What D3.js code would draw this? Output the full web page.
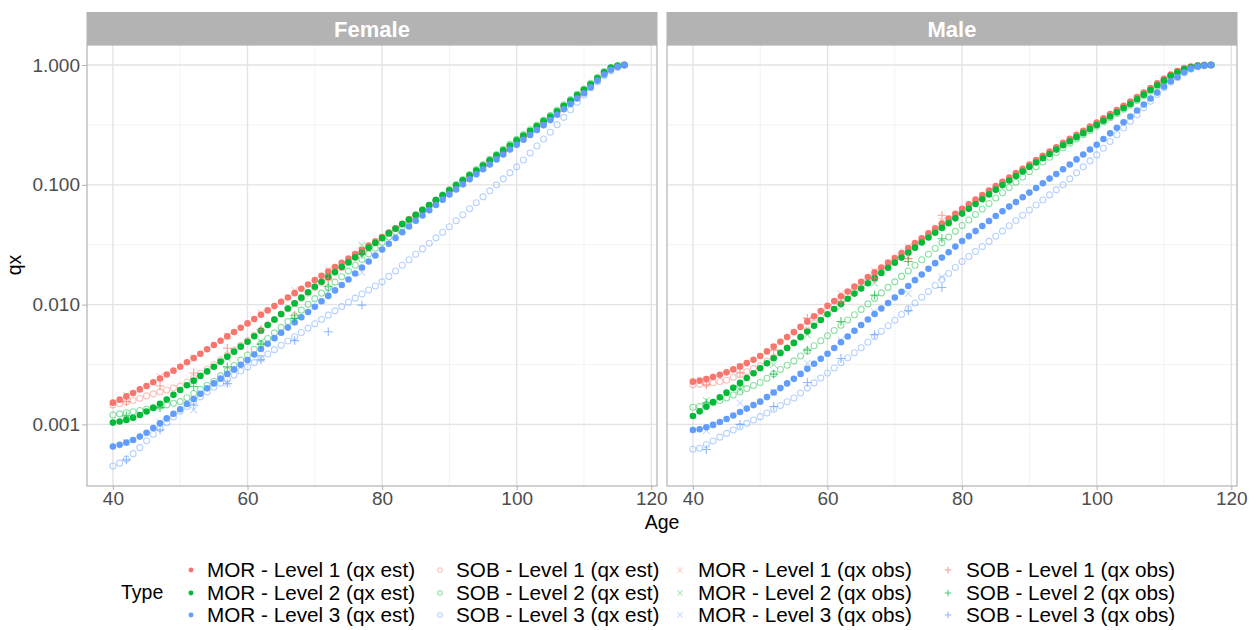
<!DOCTYPE html>
<html>
<head>
<meta charset="utf-8">
<script src="https://cdn.jsdelivr.net/npm/d3@7"></script>
<style>
  body { margin: 0; background: #ffffff; }
  text { font-family: "Liberation Sans", Arial, sans-serif; }
</style>
</head>
<body>
<svg id="chart" width="1257" height="630"></svg>
<script>
// ---- Data: one-year death probabilities (qx) by age ----
const femaleAges = d3.range(40, 117);   // 40..116
const maleAges = d3.range(40, 118);     // 40..117
const obsAges = [42, 47, 52, 57, 62, 67, 72, 77];

const femaleMOR1 = [0.00152,0.00161,0.00172,0.00183,0.00196,0.00209,0.00225,0.00242,0.00261,0.00281,
  0.00303,0.0033,0.00358,0.00389,0.00424,0.0046,0.005,0.00543,0.0059,0.00641,
  0.00697,0.00757,0.00822,0.00895,0.00972,0.01057,0.01148,0.01247,0.01355,0.01472,
  0.016,0.0174,0.0189,0.0206,0.0223,0.0243,0.0264,0.0286,0.0311,0.0338,
  0.0367,0.0399,0.0434,0.0471,0.0512,0.0556,0.0611,0.0671,0.0738,0.0811,
  0.0891,0.0979,0.1076,0.1183,0.13,0.143,0.157,0.173,0.19,0.208,
  0.229,0.251,0.275,0.302,0.331,0.363,0.403,0.447,0.495,0.55,
  0.61,0.676,0.759,0.851,0.933,0.977,1.0];
const femaleMOR2 = [0.001035,0.001059,0.001091,0.001135,0.0012,0.00128,0.001374,0.001486,0.001614,0.001766,
  0.001936,0.00212,0.00232,0.00254,0.00277,0.00303,0.00334,0.00368,0.00405,0.00446,
  0.0049,0.00545,0.00605,0.00675,0.0075,0.00834,0.00927,0.01028,0.01143,0.01268,
  0.0141,0.0155,0.017,0.0187,0.0206,0.0226,0.0248,0.0272,0.0299,0.0327,
  0.0359,0.0393,0.043,0.047,0.0514,0.0562,0.0618,0.0679,0.0745,0.0818,
  0.0899,0.0991,0.1089,0.1199,0.1318,0.1452,0.16,0.176,0.194,0.213,
  0.235,0.258,0.282,0.31,0.34,0.372,0.412,0.457,0.506,0.561,
  0.621,0.692,0.776,0.871,0.948,0.984,1.0];
const femaleMOR3 = [0.000653,0.000675,0.000705,0.000741,0.000791,0.000853,0.000933,0.001023,0.001122,0.001225,
  0.00134,0.00148,0.00163,0.0018,0.002,0.0022,0.00241,0.00264,0.00288,0.00315,
  0.00345,0.00383,0.00426,0.00472,0.00525,0.00582,0.00643,0.00711,0.00785,0.00869,
  0.00959,0.01067,0.01183,0.01315,0.01459,0.0162,0.0182,0.0204,0.0229,0.0257,
  0.0288,0.0322,0.036,0.0402,0.0449,0.0501,0.0555,0.0614,0.0679,0.0752,
  0.0832,0.0916,0.1009,0.1112,0.1225,0.1349,0.148,0.163,0.179,0.197,
  0.216,0.238,0.261,0.287,0.315,0.347,0.385,0.427,0.473,0.525,
  0.582,0.653,0.741,0.832,0.912,0.966,1.0];
const femaleSOB1 = [0.001455,0.001493,0.001538,0.001585,0.001652,0.00173,0.0018,0.00187,0.00194,0.00201,
  0.00209,0.00226,0.00245,0.00267,0.0029,0.00316,0.00347,0.0038,0.00417,0.00457,
  0.00501,0.00555,0.00614,0.00679,0.00752,0.00832,0.0092,0.01019,0.01127,0.01247,
  0.0138,0.0152,0.0167,0.0185,0.0203,0.0224,0.0247,0.0272,0.0299,0.033,
  0.0363,0.0396,0.0433,0.0472,0.0515,0.0562,0.0617,0.0676,0.0741,0.0813,
  0.0891,0.0982,0.1081,0.1191,0.1312,0.1445,0.159,0.175,0.192,0.211,
  0.232,0.254,0.279,0.305,0.335,0.367,0.407,0.452,0.501,0.556,
  0.617,0.687,0.771,0.865,0.944,0.982,1.0];
const femaleSOB2 = [0.0012,0.001225,0.00125,0.001276,0.001306,0.00134,0.001377,0.001416,0.001455,0.0015,
  0.00155,0.00167,0.00181,0.00196,0.00212,0.00229,0.00254,0.00281,0.0031,0.00344,
  0.0038,0.00423,0.0047,0.00522,0.00581,0.00646,0.00721,0.00805,0.00899,0.01005,
  0.01122,0.01247,0.01387,0.0154,0.0171,0.01905,0.0213,0.0238,0.0265,0.0296,
  0.0331,0.0366,0.0406,0.0449,0.0497,0.055,0.0608,0.0673,0.0745,0.0824,
  0.0912,0.1005,0.1107,0.1219,0.1343,0.148,0.163,0.179,0.198,0.218,
  0.24,0.263,0.288,0.316,0.347,0.38,0.421,0.466,0.515,0.57,
  0.631,0.705,0.789,0.881,0.955,0.989,1.0];
const femaleSOB3 = [0.00045,0.000475,0.000515,0.00057,0.00064,0.00073,0.000828,0.000925,0.001033,0.001153,
  0.001288,0.001413,0.001549,0.001698,0.001862,0.00204,0.00221,0.00239,0.00258,0.00279,
  0.00302,0.00328,0.00356,0.00387,0.00421,0.00457,0.00497,0.0054,0.00586,0.00637,
  0.00692,0.00752,0.00817,0.00887,0.00964,0.01047,0.01132,0.01225,0.01324,0.01432,
  0.01549,0.0172,0.0191,0.0213,0.0237,0.0263,0.0292,0.0325,0.0361,0.0402,
  0.0447,0.0501,0.0562,0.0631,0.0708,0.0794,0.0891,0.1,0.1122,0.1259,
  0.1413,0.1614,0.1845,0.211,0.241,0.275,0.318,0.366,0.423,0.488,
  0.562,0.646,0.724,0.813,0.891,0.955,1.0];

const maleMOR1 = [0.002275,0.00232,0.00239,0.00249,0.0026,0.00272,0.00288,0.00305,0.00325,0.00347,
  0.00372,0.00407,0.00447,0.0049,0.00537,0.00589,0.00652,0.00721,0.00798,0.00883,
  0.00977,0.01072,0.01175,0.01288,0.01413,0.01549,0.01698,0.01862,0.0204,0.0224,
  0.0245,0.027,0.0296,0.0326,0.0358,0.0394,0.0433,0.0475,0.0522,0.0574,
  0.0631,0.0689,0.0752,0.082,0.0895,0.0977,0.1062,0.1153,0.1253,0.1361,
  0.1479,0.1607,0.1746,0.1897,0.206,0.224,0.242,0.262,0.283,0.306,
  0.331,0.359,0.389,0.422,0.457,0.495,0.541,0.59,0.644,0.703,
  0.767,0.832,0.891,0.94,0.971,0.989,0.998,1.0];
const maleMOR2 = [0.001175,0.001285,0.001406,0.001538,0.001683,0.001841,0.00202,0.00222,0.00244,0.00267,
  0.00294,0.00324,0.00357,0.00394,0.00435,0.00479,0.00535,0.00597,0.00667,0.00745,
  0.00832,0.00918,0.01014,0.01119,0.01236,0.01365,0.01507,0.01663,0.01837,0.0203,
  0.0224,0.0247,0.0272,0.0299,0.033,0.0363,0.0398,0.0437,0.0479,0.0525,
  0.0575,0.0631,0.0692,0.0759,0.0832,0.0912,0.0995,0.1086,0.1186,0.1294,
  0.1413,0.1535,0.1667,0.1811,0.1968,0.2138,0.231,0.25,0.27,0.292,
  0.316,0.343,0.372,0.403,0.437,0.473,0.518,0.566,0.619,0.678,
  0.741,0.813,0.871,0.923,0.959,0.984,0.995,1.0];
const maleMOR3 = [0.000899,0.000912,0.000946,0.000991,0.001047,0.001109,0.001186,0.001268,0.001355,0.001449,
  0.001549,0.00169,0.001845,0.00201,0.0022,0.0024,0.00264,0.00291,0.00321,0.00353,
  0.00389,0.00435,0.00485,0.00542,0.00605,0.00676,0.00752,0.00836,0.00929,0.01033,
  0.01148,0.01282,0.01432,0.016,0.01786,0.01995,0.0222,0.0247,0.0274,0.0305,
  0.0339,0.0373,0.0411,0.0453,0.0499,0.055,0.0601,0.0658,0.0719,0.0787,
  0.0861,0.0942,0.103,0.1127,0.1233,0.1349,0.148,0.163,0.179,0.197,
  0.216,0.241,0.269,0.299,0.333,0.372,0.417,0.468,0.525,0.589,
  0.661,0.733,0.794,0.871,0.933,0.973,0.991,1.0];
const maleSOB1 = [0.00214,0.00216,0.00219,0.00223,0.00228,0.00234,0.00247,0.0026,0.00275,0.00292,
  0.00309,0.00336,0.00365,0.00398,0.00437,0.00479,0.00542,0.00614,0.00695,0.00787,
  0.00891,0.00982,0.01081,0.01191,0.01312,0.01445,0.01592,0.01754,0.01932,0.0213,
  0.0234,0.0258,0.0283,0.0311,0.0342,0.0376,0.0413,0.0454,0.0499,0.0548,
  0.0603,0.0659,0.0721,0.0787,0.0859,0.0938,0.1021,0.1112,0.1211,0.1318,
  0.1435,0.1563,0.1698,0.1845,0.2004,0.2178,0.236,0.256,0.277,0.301,
  0.326,0.353,0.383,0.415,0.45,0.488,0.533,0.583,0.637,0.697,
  0.76,0.826,0.887,0.938,0.968,0.989,0.998,1.0];
const maleSOB2 = [0.00139,0.00141,0.001455,0.00152,0.001585,0.00166,0.00176,0.00187,0.00199,0.00211,
  0.00224,0.00243,0.00264,0.00287,0.00312,0.00339,0.00373,0.00411,0.00453,0.00499,
  0.0055,0.00608,0.00673,0.00745,0.00824,0.00912,0.01014,0.01127,0.01253,0.01393,
  0.01549,0.0172,0.0191,0.0213,0.0237,0.0263,0.0294,0.0328,0.0366,0.0409,
  0.0457,0.0508,0.0565,0.0628,0.0698,0.0776,0.0859,0.0951,0.1052,0.1164,
  0.1288,0.1413,0.1549,0.1698,0.1862,0.2042,0.222,0.241,0.262,0.284,
  0.309,0.335,0.363,0.394,0.427,0.462,0.506,0.553,0.605,0.662,
  0.724,0.798,0.861,0.916,0.955,0.982,0.995,1.0];
const maleSOB3 = [0.000621,0.000632,0.000679,0.000728,0.000783,0.000841,0.000897,0.000957,0.001021,0.001089,
  0.001161,0.001247,0.00134,0.001439,0.001545,0.00166,0.00183,0.00201,0.00222,0.00244,
  0.00269,0.00296,0.00327,0.0036,0.00396,0.00437,0.00485,0.0054,0.006,0.00667,
  0.00741,0.00828,0.00925,0.01033,0.01153,0.01288,0.01445,0.01622,0.0182,0.0204,
  0.0229,0.0252,0.0278,0.0306,0.0337,0.0372,0.0411,0.0455,0.0504,0.0557,
  0.0617,0.0679,0.0748,0.0824,0.0908,0.1,0.1122,0.1259,0.1413,0.1585,
  0.1778,0.202,0.23,0.262,0.298,0.339,0.385,0.439,0.499,0.568,
  0.646,0.721,0.785,0.861,0.923,0.968,0.989,1.0];

// observed rates at the grouped ages
const femaleMOR1obs = [0.00174,0.00251,0.00355,0.0055,0.00851,0.01318,0.0195,0.0284];
const femaleMOR2obs = [0.001122,0.001445,0.00229,0.00355,0.0049,0.01,0.017,0.0313];
const femaleMOR3obs = [0.000708,0.001047,0.001318,0.0022,0.00356,0.00724,0.01288,0.0186];
const femaleSOB1obs = [0.00155,0.00209,0.00269,0.00432,0.00617,0.00813,0.0166,0.0275];
const femaleSOB2obs = [0.001175,0.00138,0.00207,0.00302,0.00468,0.00767,0.0141,0.0263];
const femaleSOB3obs = [0.000506,0.0009,0.001445,0.00219,0.00347,0.00501,0.00593,0.00991];
const maleMOR1obs = [0.00234,0.00302,0.00437,0.00741,0.01239,0.01905,0.0302,0.0501];
const maleMOR2obs = [0.001585,0.00195,0.00316,0.00562,0.00955,0.0151,0.0251,0.0447];
const maleMOR3obs = [0.000891,0.00151,0.00186,0.00324,0.00506,0.00871,0.01239,0.017];
const maleSOB1obs = [0.00214,0.00269,0.00417,0.00767,0.01054,0.0166,0.0243,0.0557];
const maleSOB2obs = [0.00151,0.00209,0.00263,0.00417,0.00724,0.012,0.0229,0.0355];
const maleSOB3obs = [0.000617,0.001,0.001413,0.00224,0.00355,0.00562,0.00891,0.0139];

const panelNames = ["Female", "Male"];
const typeLabels = [
  "MOR - Level 1 (qx est)", "MOR - Level 2 (qx est)", "MOR - Level 3 (qx est)",
  "SOB - Level 1 (qx est)", "SOB - Level 2 (qx est)", "SOB - Level 3 (qx est)",
  "MOR - Level 1 (qx obs)", "MOR - Level 2 (qx obs)", "MOR - Level 3 (qx obs)",
  "SOB - Level 1 (qx obs)", "SOB - Level 2 (qx obs)", "SOB - Level 3 (qx obs)"
];
const yTicks = [0.001, 0.01, 0.1, 1];
const xTicks = [40, 60, 80, 100, 120];

// ---- Series table ----
const levelColor = ["#F8766D", "#00BA38", "#619CFF"];
const markOf = ["fill", "fill", "fill", "open", "open", "open", "times", "times", "times", "plus", "plus", "plus"];

const seriesByPanel = {
  Female: [
    [femaleAges, femaleMOR1], [femaleAges, femaleMOR2], [femaleAges, femaleMOR3],
    [femaleAges, femaleSOB1], [femaleAges, femaleSOB2], [femaleAges, femaleSOB3],
    [obsAges, femaleMOR1obs], [obsAges, femaleMOR2obs], [obsAges, femaleMOR3obs],
    [obsAges, femaleSOB1obs], [obsAges, femaleSOB2obs], [obsAges, femaleSOB3obs]
  ],
  Male: [
    [maleAges, maleMOR1], [maleAges, maleMOR2], [maleAges, maleMOR3],
    [maleAges, maleSOB1], [maleAges, maleSOB2], [maleAges, maleSOB3],
    [obsAges, maleMOR1obs], [obsAges, maleMOR2obs], [obsAges, maleMOR3obs],
    [obsAges, maleSOB1obs], [obsAges, maleSOB2obs], [obsAges, maleSOB3obs]
  ]
};

const points = [];
panelNames.forEach(p => {
  seriesByPanel[p].forEach(([ages, vals], t) => {
    vals.forEach((v, i) => points.push({ panel: p, type: t, age: ages[i], qx: v }));
  });
});

// ---- Layout ----
const svg = d3.select("#chart");
const plotTop = 45, plotBottom = 486, stripTop = 12;
const panelBox = { Female: [87, 657], Male: [667, 1237] };

// shared scales with 5% expansion (log space for y)
const ageExt = d3.extent(points, d => d.age);
const ageExp = (ageExt[1] - ageExt[0]) * 0.05;
const logExt = d3.extent(points, d => Math.log10(d.qx));
const logExp = (logExt[1] - logExt[0]) * 0.05;
const y = d3.scaleLog()
  .domain([Math.pow(10, logExt[0] - logExp), Math.pow(10, logExt[1] + logExp)])
  .range([plotBottom, plotTop]);

const gridMajor = "#E3E3E3", gridMinor = "#EFEFEF", frame = "#B3B3B3";

const opacityOf = { fill: 1, open: 0.45, times: 0.35, plus: 0.7 };

function drawMark(g, kind, color, cx, cy, scale) {
  const k = scale || 1;
  if (kind === "fill") {
    g.append("circle").attr("cx", cx).attr("cy", cy).attr("r", 3.3 * k)
      .attr("fill", color).attr("fill-opacity", opacityOf.fill);
  } else if (kind === "open") {
    g.append("circle").attr("cx", cx).attr("cy", cy).attr("r", 3.0 * k)
      .attr("fill", "none").attr("stroke", color).attr("stroke-width", 1.1)
      .attr("stroke-opacity", opacityOf.open);
  } else if (kind === "times") {
    const s = 3.4 * k;
    g.append("path")
      .attr("d", `M${cx - s},${cy - s}L${cx + s},${cy + s}M${cx - s},${cy + s}L${cx + s},${cy - s}`)
      .attr("stroke", color).attr("stroke-width", 1.1).attr("stroke-opacity", opacityOf.times);
  } else {
    const s = 4.4 * k;
    g.append("path")
      .attr("d", `M${cx - s},${cy}L${cx + s},${cy}M${cx},${cy - s}L${cx},${cy + s}`)
      .attr("stroke", color).attr("stroke-width", 1.1).attr("stroke-opacity", opacityOf.plus);
  }
}

// draw order: open estimates, filled estimates, then observations
const drawOrder = [3, 4, 5, 0, 1, 2, 6, 7, 8, 9, 10, 11];

panelNames.forEach((p, pi) => {
  const [left, right] = panelBox[p];
  const x = d3.scaleLinear().domain([ageExt[0] - ageExp, ageExt[1] + ageExp]).range([left, right]);
  const g = svg.append("g");

  // grid
  const minorX = d3.range(30, 131, 20).filter(v => v > x.domain()[0] && v < x.domain()[1]);
  const minorY = yTicks.map(v => v * Math.sqrt(10)).filter(v => v > y.domain()[0] && v < y.domain()[1]);
  g.selectAll(".gxm").data(minorX).join("line")
    .attr("x1", d => x(d)).attr("x2", d => x(d)).attr("y1", plotTop).attr("y2", plotBottom)
    .attr("stroke", gridMinor).attr("stroke-width", 0.8);
  g.selectAll(".gym").data(minorY).join("line")
    .attr("x1", left).attr("x2", right).attr("y1", d => y(d)).attr("y2", d => y(d))
    .attr("stroke", gridMinor).attr("stroke-width", 0.8);
  g.selectAll(".gx").data(xTicks).join("line")
    .attr("x1", d => x(d)).attr("x2", d => x(d)).attr("y1", plotTop).attr("y2", plotBottom)
    .attr("stroke", gridMajor).attr("stroke-width", 1.4);
  g.selectAll(".gy").data(yTicks).join("line")
    .attr("x1", left).attr("x2", right).attr("y1", d => y(d)).attr("y2", d => y(d))
    .attr("stroke", gridMajor).attr("stroke-width", 1.4);

  // points
  const pts = g.append("g");
  drawOrder.forEach(t => {
    const col = levelColor[t % 3];
    points.filter(d => d.panel === p && d.type === t)
      .forEach(d => drawMark(pts, markOf[t], col, x(d.age), y(d.qx)));
  });

  // panel frame
  g.append("rect").attr("x", left).attr("y", plotTop).attr("width", right - left)
    .attr("height", plotBottom - plotTop).attr("fill", "none").attr("stroke", frame).attr("stroke-width", 1.2);

  // strip
  g.append("rect").attr("x", left - 0.5).attr("y", stripTop).attr("width", right - left + 1)
    .attr("height", plotTop - stripTop).attr("fill", "#B3B3B3");
  g.append("text").attr("x", (left + right) / 2).attr("y", (stripTop + plotTop) / 2 + 8)
    .attr("text-anchor", "middle").attr("fill", "#ffffff").attr("font-weight", "bold")
    .attr("font-size", 22).text(p);

  // x axis
  const xa = g.append("g").attr("transform", `translate(0,${plotBottom})`)
    .call(d3.axisBottom(x).tickValues(xTicks).tickSize(4).tickPadding(2).tickFormat(d3.format("d")));
  xa.select(".domain").remove();
  xa.selectAll(".tick line").attr("stroke", frame);
  xa.selectAll(".tick text").attr("fill", "#4D4D4D").attr("font-size", 19)
    .attr("font-family", "Liberation Sans, Arial, sans-serif");

  // y axis on the first panel only
  if (pi === 0) {
    const ya = g.append("g").attr("transform", `translate(${left},0)`)
      .call(d3.axisLeft(y).tickValues(yTicks).tickSize(5).tickPadding(2).tickFormat(d3.format(".3f")));
    ya.select(".domain").remove();
    ya.selectAll(".tick line").attr("stroke", frame);
    ya.selectAll(".tick text").attr("fill", "#4D4D4D").attr("font-size", 19)
      .attr("font-family", "Liberation Sans, Arial, sans-serif");
  }
});

// axis titles
svg.append("text").attr("x", 662).attr("y", 529).attr("text-anchor", "middle")
  .attr("font-size", 19.5).attr("fill", "#000").text("Age");
svg.append("text").attr("transform", "translate(21,265) rotate(-90)").attr("text-anchor", "middle")
  .attr("font-size", 19.5).attr("fill", "#000").text("qx");

// legend: 4 columns x 3 rows, filled column by column
const legend = svg.append("g");
legend.append("text").attr("x", 121).attr("y", 599).attr("font-size", 19.5).attr("fill", "#000").text("Type");
const colKeyX = [191, 440, 680, 948];
const colTextX = [207, 456, 698, 966];
const rowY = [570, 593, 615];
typeLabels.forEach((lab, t) => {
  const c = Math.floor(t / 3), r = t % 3;
  drawMark(legend, markOf[t], levelColor[t % 3], colKeyX[c], rowY[r], 0.75);
  legend.append("text").attr("x", colTextX[c]).attr("y", rowY[r] + 7.4)
    .attr("font-size", 20.7).attr("fill", "#000").text(lab);
});
</script>
</body>
</html>
